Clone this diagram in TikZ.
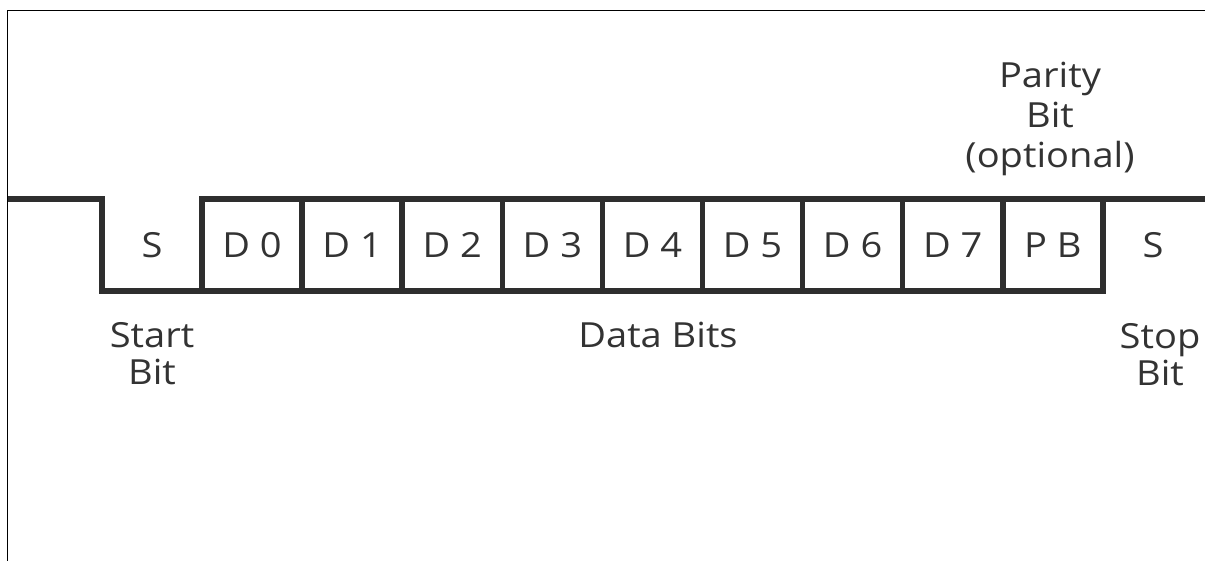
\documentclass[tikz,border=0pt]{standalone}
\usepackage{fontspec}
\setmainfont[FakeStretch=1.1]{Open Sans}
\begin{document}
\begin{tikzpicture}[x=0.5pt,y=-0.5pt,
  every node/.style={inner sep=0pt,outer sep=0pt,text=labelgray,font=\fontsize{17.3}{20}\selectfont},
  cell/.style={minimum width=50.05pt,minimum height=46pt,anchor=north west,text height=12.3pt,text depth=0pt},
  boxed/.style={cell,draw=linegray,line width=2.75pt},
  wave/.style={draw=linegray,line width=2.75pt,line join=miter},
  caption/.style={align=center,anchor=base}]
\definecolor{linegray}{HTML}{2E2E2E}
\definecolor{labelgray}{HTML}{333333}
\useasboundingbox (0,0) rectangle (1205,561);
% frame along the top and left edges
\draw[line width=0.8pt,black] (7.5,561) -- (7.5,10.5) -- (1205,10.5);
% start bit cell (not boxed)
\node[cell] (s0) at (102,199) {S};
% data bits and parity bit, each in its own box
\foreach \i in {0,...,7}
  \node[boxed] (d\i) at (202+100.1*\i,199) {D \i};
\node[boxed] (pb) at (1002.8,199) {P B};
% stop bit cell (not boxed)
\node[cell] (s1) at (1102.9,199) {S};
\coordinate (idle) at (8,199);
\coordinate (after) at (1205,199);
% line level: idle high, low for the start bit, back high after the parity bit
\draw[wave] (idle) -- (s0.north west) -- (s0.south west) -- (s0.south east) -- (d0.south west);
\draw[wave] (d0.north west) -- (s1.north west) -- (after);
% captions (anchored at the baseline of their last line)
\node[caption] (startlbl) at (152,385) {Start\\[-1.5pt]Bit};
\node[caption] (datalbl) at (658,348) {Data Bits};
\node[caption] (stoplbl) at (1160,386) {Stop\\[-1.5pt]Bit};
\node[caption] (paritylbl) at (1050,168) {Parity\\Bit\\(optional)};
\end{tikzpicture}
\end{document}
